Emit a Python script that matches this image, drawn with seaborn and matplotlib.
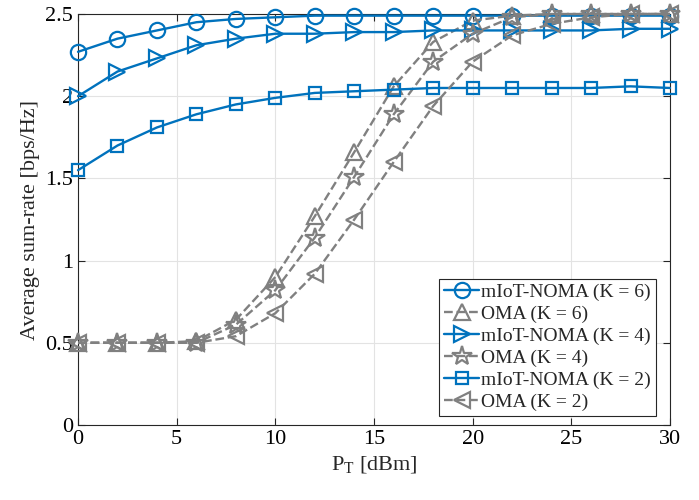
import numpy as np
import pandas as pd
import matplotlib
matplotlib.use('Agg')
import matplotlib.pyplot as plt
import seaborn as sns

# Data
p_t = [0, 2, 4, 6, 8, 10, 12, 14, 16, 18, 20, 22, 24, 26, 28, 30]

noma_k6 = [2.27, 2.35, 2.40, 2.45, 2.47, 2.48, 2.49, 2.49, 2.49, 2.49, 2.49, 2.49, 2.49, 2.49, 2.49, 2.49]
oma_k6 = [0.50, 0.50, 0.50, 0.51, 0.64, 0.90, 1.27, 1.66, 2.06, 2.33, 2.46, 2.49, 2.50, 2.50, 2.50, 2.50]
noma_k4 = [2.00, 2.15, 2.23, 2.31, 2.35, 2.38, 2.38, 2.39, 2.39, 2.40, 2.40, 2.40, 2.40, 2.40, 2.41, 2.41]
oma_k4 = [0.50, 0.50, 0.50, 0.50, 0.61, 0.82, 1.14, 1.51, 1.89, 2.21, 2.38, 2.48, 2.50, 2.50, 2.50, 2.50]
noma_k2 = [1.55, 1.70, 1.81, 1.89, 1.95, 1.99, 2.02, 2.03, 2.04, 2.05, 2.05, 2.05, 2.05, 2.05, 2.06, 2.05]
oma_k2 = [0.50, 0.50, 0.50, 0.50, 0.54, 0.68, 0.92, 1.25, 1.60, 1.94, 2.21, 2.37, 2.44, 2.48, 2.50, 2.50]

series = [
    ('mIoT-NOMA (K = 6)', noma_k6, 'o', '-'),
    ('OMA (K = 6)', oma_k6, '^', '--'),
    ('mIoT-NOMA (K = 4)', noma_k4, '>', '-'),
    ('OMA (K = 4)', oma_k4, '*', '--'),
    ('mIoT-NOMA (K = 2)', noma_k2, 's', '-'),
    ('OMA (K = 2)', oma_k2, '<', '--'),
]

blue = '#0072BD'
gray = '#808080'

sns.set_style('ticks')
plt.rcParams['font.family'] = ['Liberation Serif', 'DejaVu Serif']
plt.rcParams['mathtext.fontset'] = 'custom'
plt.rcParams['mathtext.rm'] = 'Liberation Serif'
plt.rcParams['mathtext.it'] = 'Liberation Serif:italic'

fig = plt.figure(figsize=(6.99, 5.0), dpi=100)
ax = fig.add_axes([0.1116, 0.15, 0.8469, 0.822])

msize = {'o': 11, '^': 12, '>': 12, '*': 15, 's': 8, '<': 12}
for label, vals, mk, ls in series:
    col = blue if 'NOMA' in label else gray
    df = pd.DataFrame({'P_T': p_t, 'rate': vals})
    sns.lineplot(data=df, x='P_T', y='rate', ax=ax, label=label, color=col,
                 linestyle=ls, linewidth=1.7, marker=mk, markersize=msize[mk],
                 markerfacecolor='none', markeredgecolor=col,
                 markeredgewidth=1.6, errorbar=None, clip_on=False, zorder=3)

ax.set_xlim(0, 30)
ax.set_ylim(0, 2.5)
ax.set_xticks(np.arange(0, 31, 5))
ax.set_yticks([0, 0.5, 1, 1.5, 2, 2.5])
ax.set_yticklabels(['0', '0.5', '1', '1.5', '2', '2.5'])
ax.grid(True, color='#e3e3e3', linewidth=0.8)
ax.tick_params(direction='in', labelsize=16, top=True, right=True,
               length=5, width=0.8, colors='#262626', labelcolor='black')
for sp in ax.spines.values():
    sp.set_visible(True)
    sp.set_color('#262626')
    sp.set_linewidth(0.8)

ax.set_xlabel(r'P$_{\mathrm{T}}$ [dBm]', fontsize=16, labelpad=4)
ax.set_ylabel('Average sum-rate [bps/Hz]', fontsize=16, labelpad=4)

leg = ax.legend(loc='lower right', bbox_to_anchor=(0.976, 0.022), fontsize=14,
                frameon=True, fancybox=False, framealpha=1, edgecolor='#262626',
                handlelength=1.8, handletextpad=0.1, labelspacing=0.22,
                borderpad=0.25, borderaxespad=0)
leg.get_frame().set_linewidth(0.8)
leg.set_zorder(5)

fig.savefig('out.png', dpi=100)
